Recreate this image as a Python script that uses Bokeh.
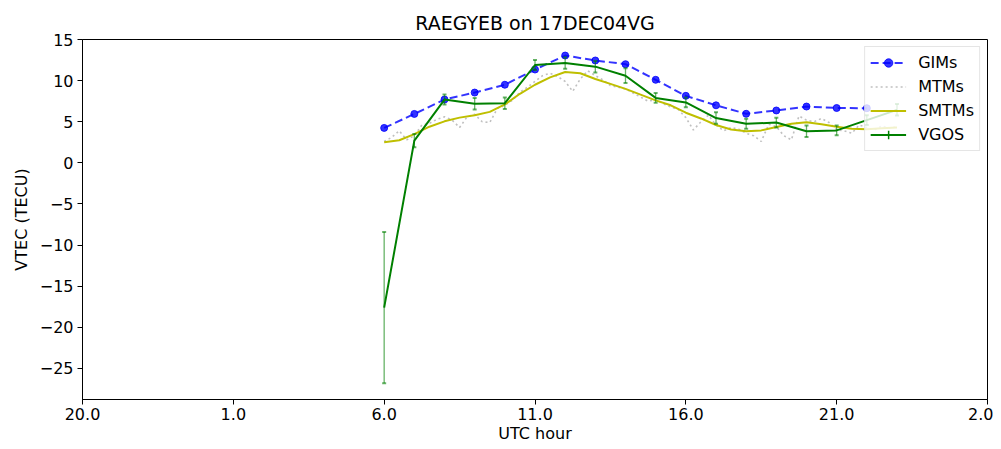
import numpy as np
from bokeh.plotting import figure
from bokeh.models import ColumnDataSource, FixedTicker, Legend, LegendItem, Range1d
from bokeh.embed import file_html
from bokeh.resources import INLINE

# ---------------- data ----------------
gims_hours = [6, 7, 8, 9, 10, 11, 12, 13, 14, 15, 16, 17, 18, 19, 20, 21, 22]
gims_vtec = [4.25, 5.95, 7.7, 8.55, 9.5, 11.35, 13.05, 12.45, 12.0, 10.1, 8.15,
             7.0, 5.97, 6.37, 6.85, 6.67, 6.65]

vgos_hours = [6, 7, 8, 9, 10, 11, 12, 13, 14, 15, 16, 17, 18, 19, 20, 21, 22, 23]
vgos_vtec = [-17.6, 2.7, 7.7, 7.2, 7.25, 11.9, 12.15, 11.7, 10.6, 7.9, 7.35,
             5.45, 4.75, 4.9, 3.85, 3.95, 5.2, 6.45]
vgos_err = [9.2, 0.8, 0.6, 0.7, 0.7, 0.6, 0.7, 0.7, 0.9, 0.6, 0.6, 0.7, 0.6,
            0.6, 0.7, 0.6, 0.6, 0.7]

smtm_hours = [6.0, 6.5, 7.0, 7.5, 8.0, 8.5, 9.0, 9.5, 10.0, 10.5, 11.0, 11.5,
              12.0, 12.5, 13.0, 13.5, 14.0, 14.5, 15.0, 15.5, 16.0, 16.5, 17.0,
              17.5, 18.0, 18.5, 19.0, 19.5, 20.0, 20.5, 21.0, 21.5, 22.0, 22.5, 23.0]
smtm_vtec = [2.5, 2.75, 3.5, 4.4, 5.05, 5.5, 5.8, 6.2, 7.1, 8.4, 9.5, 10.4,
             11.05, 10.9, 10.2, 9.6, 9.0, 8.3, 7.6, 7.0, 6.1, 5.4, 4.6,
             4.05, 3.85, 3.95, 4.35, 4.75, 4.95, 4.7, 4.4, 4.15, 4.1, 4.2, 4.3]

mtm_hours = [6.0, 6.25, 6.5, 6.75, 7.0, 7.25, 7.5, 7.75, 8.0, 8.25, 8.5, 8.75,
             9.0, 9.25, 9.5, 9.75, 10.0, 10.25, 10.5, 10.75, 11.0, 11.25, 11.5,
             11.75, 12.0, 12.25, 12.5, 12.75, 13.0, 13.25, 13.5, 13.75, 14.0,
             14.25, 14.5, 14.75, 15.0, 15.25, 15.5, 15.75, 16.0, 16.25, 16.5,
             16.75, 17.0, 17.25, 17.5, 17.75, 18.0, 18.25, 18.5, 18.75, 19.0,
             19.25, 19.5, 19.75, 20.0, 20.25, 20.5, 20.75, 21.0, 21.25, 21.5,
             21.75, 22.0, 22.25, 22.5, 22.75, 23.0]
mtm_vtec = [2.6, 3.1, 3.9, 2.8, 3.3, 4.6, 4.8, 5.3, 5.6, 5.2, 4.3, 5.6,
            5.9, 5.0, 4.9, 6.6, 7.0, 7.6, 8.6, 9.2, 9.9, 10.6, 10.9,
            10.5, 9.9, 8.7, 10.2, 11.2, 10.6, 10.1, 9.4, 9.2, 9.0,
            8.5, 8.0, 7.5, 7.7, 7.2, 6.8, 6.5, 5.5, 4.0, 5.0,
            5.8, 4.6, 3.9, 4.3, 4.1, 3.6, 3.3, 2.6, 4.7, 4.4,
            3.3, 2.8, 5.7, 5.2, 5.0, 5.4, 4.9, 4.0, 3.9, 3.6,
            4.6, 4.3, 4.0, 4.5, 4.2, 4.4]

xtick_pos = [-4, 1, 6, 11, 16, 21, 26]
xtick_labels = ["20.0", "1.0", "6.0", "11.0", "16.0", "21.0", "2.0"]
ytick_pos = [-25, -20, -15, -10, -5, 0, 5, 10, 15]
ytick_labels = ["\u221225", "\u221220", "\u221215", "\u221210", "\u22125", "0", "5", "10", "15"]

FONT = "DejaVu Sans"

# ---------------- figure ----------------
p = figure(width=993, height=447, output_backend="svg", toolbar_location=None,
           x_range=Range1d(-4, 26), y_range=Range1d(-28.77, 15),
           min_border_left=82, min_border_right=6, min_border_top=39,
           min_border_bottom=48, title="RAEGYEB on 17DEC04VG")
p.title.align = "center"
p.title.text_font = FONT
p.title.text_font_size = "19px"
p.title.text_font_style = "normal"
p.title.text_color = "black"
p.title.standoff = 12

p.grid.visible = False
p.outline_line_color = "black"
p.outline_line_width = 1
p.background_fill_color = "white"
p.border_fill_color = "white"

for ax in (p.xaxis[0], p.yaxis[0]):
    ax.axis_line_color = "black"
    ax.major_tick_line_color = "black"
    ax.major_tick_out = 5
    ax.major_tick_in = 0
    ax.minor_tick_line_color = None
    ax.major_label_text_font = FONT
    ax.major_label_text_font_size = "16px"
    ax.major_label_text_color = "black"
    ax.axis_label_text_font = FONT
    ax.axis_label_text_font_size = "16px"
    ax.axis_label_text_font_style = "normal"
    ax.axis_label_text_color = "black"

p.xaxis.ticker = FixedTicker(ticks=xtick_pos)
p.xaxis.major_label_overrides = {k: v for k, v in zip(xtick_pos, xtick_labels)}
p.yaxis.ticker = FixedTicker(ticks=ytick_pos)
p.yaxis.major_label_overrides = {k: v for k, v in zip(ytick_pos, ytick_labels)}
p.xaxis.axis_label = "UTC hour"
p.yaxis.axis_label = "VTEC (TECU)"
p.xaxis.major_label_standoff = 3
p.yaxis.major_label_standoff = 4
p.xaxis.axis_label_standoff = 1
p.yaxis.axis_label_standoff = 6

# ---------------- glyphs ----------------
gims_src = ColumnDataSource(dict(x=gims_hours, y=gims_vtec))
g_line = p.line("x", "y", source=gims_src, line_color="blue", line_alpha=0.8,
                line_width=2, line_dash="8 4")
g_dots = p.scatter("x", "y", source=gims_src, marker="circle", size=7,
                   fill_color="blue", line_color="blue", alpha=0.8)

mtm_src = ColumnDataSource(dict(x=mtm_hours, y=mtm_vtec))
m_line = p.line("x", "y", source=mtm_src, line_color="#c0c0c0", line_width=1.6,
                line_dash="2 3")

smtm_src = ColumnDataSource(dict(x=smtm_hours, y=smtm_vtec))
s_line = p.line("x", "y", source=smtm_src, line_color="#bfbf00", line_width=2)

lo = [v - e for v, e in zip(vgos_vtec, vgos_err)]
hi = [v + e for v, e in zip(vgos_vtec, vgos_err)]
nan_col = [float("nan")] * len(vgos_hours)
vg_src = ColumnDataSource(dict(x=vgos_hours, y=vgos_vtec, lo=lo, hi=hi, nan=nan_col))
p.segment(x0="x", y0="lo", x1="x", y1="hi", source=vg_src, line_color="green",
          line_alpha=0.6, line_width=1.3)
p.scatter("x", "lo", source=vg_src, marker="dash", size=4, line_color="green",
          line_alpha=0.6, line_width=2)
p.scatter("x", "hi", source=vg_src, marker="dash", size=4, line_color="green",
          line_alpha=0.6, line_width=2)
v_line = p.line("x", "y", source=vg_src, line_color="green", line_width=2)
# legend-only handle: its y column is NaN so nothing is drawn in the plot area
v_leg = p.scatter("x", "nan", source=vg_src, marker="cross", size=10,
                  line_color="green", line_width=1.5)

legend = Legend(items=[
    LegendItem(label="GIMs", renderers=[g_line, g_dots]),
    LegendItem(label="MTMs", renderers=[m_line]),
    LegendItem(label="SMTMs", renderers=[s_line]),
    LegendItem(label="VGOS", renderers=[v_line, v_leg]),
], location="top_right")
legend.margin = 7
legend.padding = 5
legend.spacing = 3
legend.label_height = 21
legend.glyph_height = 21
legend.glyph_width = 36
legend.label_standoff = 12
legend.label_text_font = FONT
legend.label_text_font_size = "16px"
legend.label_text_color = "black"
legend.border_line_color = "#cccccc"
legend.border_line_width = 1
legend.background_fill_alpha = 0.8
p.add_layout(legend)

open("out.html", "w").write(file_html(p, INLINE))
